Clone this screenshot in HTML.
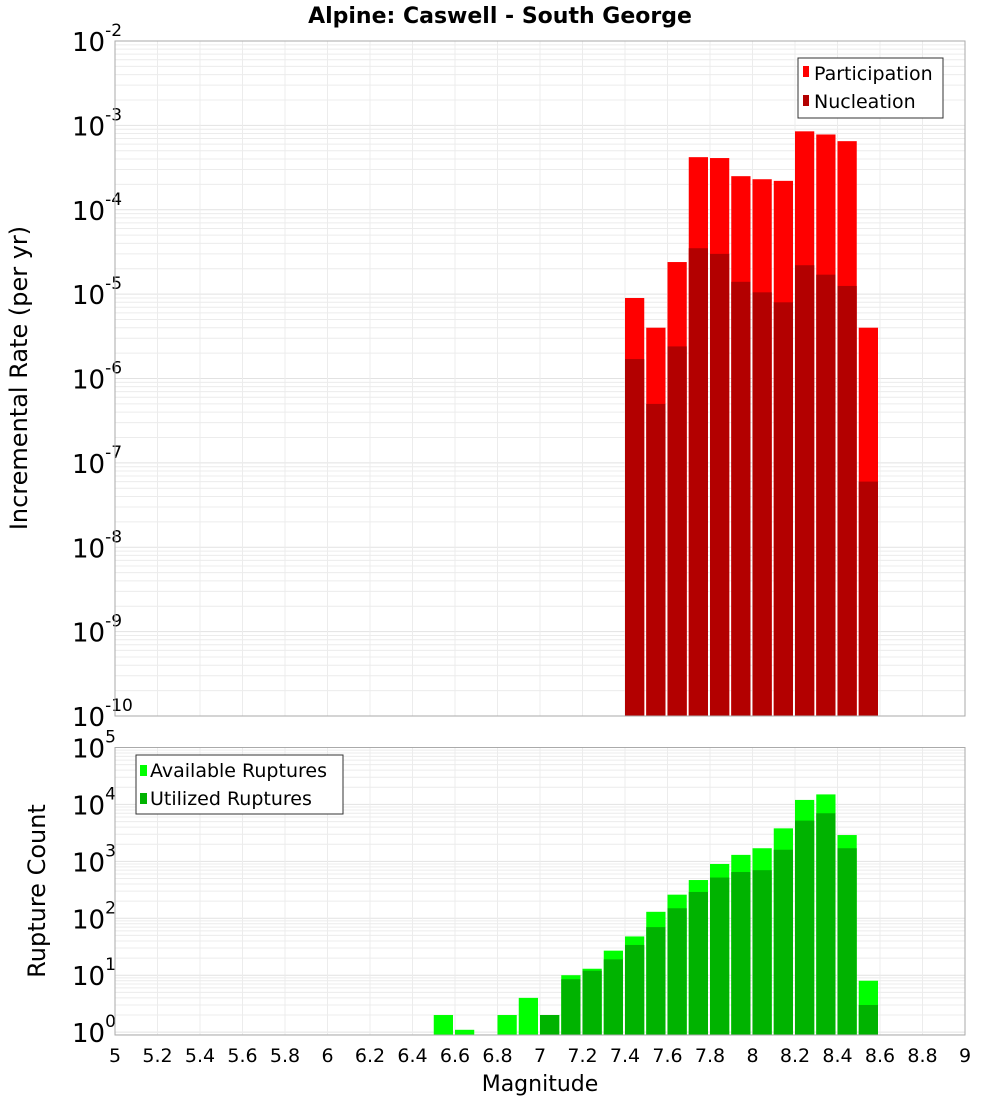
<!DOCTYPE html>
<html><head><meta charset="utf-8"><style>
body{margin:0;background:#fff;font-family:"Liberation Sans","DejaVu Sans",sans-serif}
svg text{font-family:"DejaVu Sans","Liberation Sans",sans-serif}
</style></head><body>
<svg id="chart" width="1000" height="1100" xmlns="http://www.w3.org/2000/svg">
<rect width="1000" height="1100" fill="#fff"/>
<text x="500" y="23" text-anchor="middle" font-size="22" font-weight="bold">Alpine: Caswell - South George</text>
<g id="top"></g><g id="bot"></g>
</svg>
<script>
// data
const binStartsTop = [7.4,7.5,7.6,7.7,7.8,7.9,8.0,8.1,8.2,8.3,8.4,8.5];
const participation = [9e-6,4e-6,2.4e-5,4.2e-4,4.1e-4,2.5e-4,2.3e-4,2.2e-4,8.5e-4,7.8e-4,6.5e-4,4e-6];
const nucleation = [1.7e-6,5e-7,2.4e-6,3.5e-5,3e-5,1.4e-5,1.05e-5,8e-6,2.2e-5,1.7e-5,1.25e-5,6e-8];
const binStartsBot = [6.5,6.6,6.8,6.9,7.0,7.1,7.2,7.3,7.4,7.5,7.6,7.7,7.8,7.9,8.0,8.1,8.2,8.3,8.4,8.5];
const available = [2,1.1,2,4,2,10,13,27,48,130,260,470,900,1300,1700,3800,12000,15000,2900,8];
const utilized = [0,0,0,0,2,8.5,12,19,34,70,150,290,520,650,700,1600,5200,7000,1700,3];
const xTicks = [5,5.2,5.4,5.6,5.8,6,6.2,6.4,6.6,6.8,7,7.2,7.4,7.6,7.8,8,8.2,8.4,8.6,8.8,9];

const NS="http://www.w3.org/2000/svg";
function mk(parent,tag,attrs,text){const e=document.createElementNS(NS,tag);for(const k in attrs)e.setAttribute(k,attrs[k]);if(text!==undefined)e.textContent=text;parent.appendChild(e);return e;}
const X0=115,X1=965;
const xs=v=>X0+(v-5)/4*(X1-X0);
function panel(g,top,bottom,lmin,lmax,name){
  const ys=v=>bottom-(Math.log10(v)-lmin)/(lmax-lmin)*(bottom-top);
  let r=mk(g,'rect',{x:X0,y:top,width:X1-X0,height:bottom-top,fill:'#fff'});
  
  
  for(let d=Math.floor(lmin);d<lmax;d++){for(let m=1;m<10;m++){const v=m*Math.pow(10,d);const l=Math.log10(v);if(l<lmin||l>lmax)continue;
    let ln=mk(g,'line',{x1:X0,x2:X1,y1:ys(v),y2:ys(v),stroke:m==1?'#e2e2e2':'#ececec','stroke-width':1});
    
    }}
  xTicks.forEach(t=>{let ln=mk(g,'line',{x1:xs(t),x2:xs(t),y1:top,y2:bottom,stroke:'#ececec'});
    
    });
  for(let d=Math.ceil(lmin);d<=lmax;d++){const y=ys(Math.pow(10,d));
    let t=mk(g,'text',{x:72,y:y+10,'font-size':26});
    
    
    mk(t,'tspan',{},'10');mk(t,'tspan',{dy:-15,'font-size':17},String(d));}
  return ys;
}
const gt=document.getElementById('top'),gb=document.getElementById('bot');
const yt=panel(gt,41,716,-10,-2,'rate');
const w=0.1*(X1-X0)/4-2;
binStartsTop.forEach((b,i)=>{
  let r=mk(gt,'rect',{x:xs(b),y:yt(participation[i]),width:w,height:716-yt(participation[i]),fill:'#ff0000'});
  
  
  let n=mk(gt,'rect',{x:xs(b),y:yt(nucleation[i]),width:w,height:716-yt(nucleation[i]),fill:'#b30000'});
  
  
});
let f1=mk(gt,'rect',{x:X0,y:41,width:X1-X0,height:675,fill:'none',stroke:'#aaa'});


const yb=panel(gb,747.5,1035,-0.05,5,'count');
binStartsBot.forEach((b,i)=>{
  let r=mk(gb,'rect',{x:xs(b),y:yb(available[i]),width:w,height:1035-yb(available[i]),fill:'#00ff00'});
  
  
  if(utilized[i]>0){let n=mk(gb,'rect',{x:xs(b),y:yb(utilized[i]),width:w,height:1035-yb(utilized[i]),fill:'#00b300'});
  
  }
});
let f2=mk(gb,'rect',{x:X0,y:747.5,width:X1-X0,height:287.5,fill:'none',stroke:'#aaa'});


xTicks.forEach(t=>{let tx=mk(gb,'text',{x:xs(t),y:1062,'font-size':19,'text-anchor':'middle'},String(t));
  
  });
</script>
<svg style="position:absolute;left:0;top:0" width="1000" height="1100" xmlns="http://www.w3.org/2000/svg">
<text x="540" y="1091" text-anchor="middle" font-size="22">Magnitude</text>
<text transform="translate(27,378) rotate(-90)" text-anchor="middle" font-size="24">Incremental Rate (per yr)</text>
<text transform="translate(45,891) rotate(-90)" text-anchor="middle" font-size="24">Rupture Count</text>
<g>
<rect x="798" y="58" width="145" height="60" fill="#fff" stroke="#333"/>
<rect x="803" y="66" width="6" height="11" fill="#ff0000"/>
<text x="814" y="80" font-size="19">Participation</text>
<rect x="803" y="95" width="6" height="11" fill="#b30000"/>
<text x="814" y="108" font-size="19">Nucleation</text>
</g>
<g>
<rect x="136" y="755" width="207" height="59" fill="#fff" stroke="#333"/>
<rect x="140" y="765" width="7" height="11" fill="#00ff00"/>
<text x="150" y="777" font-size="19">Available Ruptures</text>
<rect x="140" y="793" width="7" height="11" fill="#00b300"/>
<text x="150" y="805" font-size="19">Utilized Ruptures</text>
</g>
</svg>
</body></html>
